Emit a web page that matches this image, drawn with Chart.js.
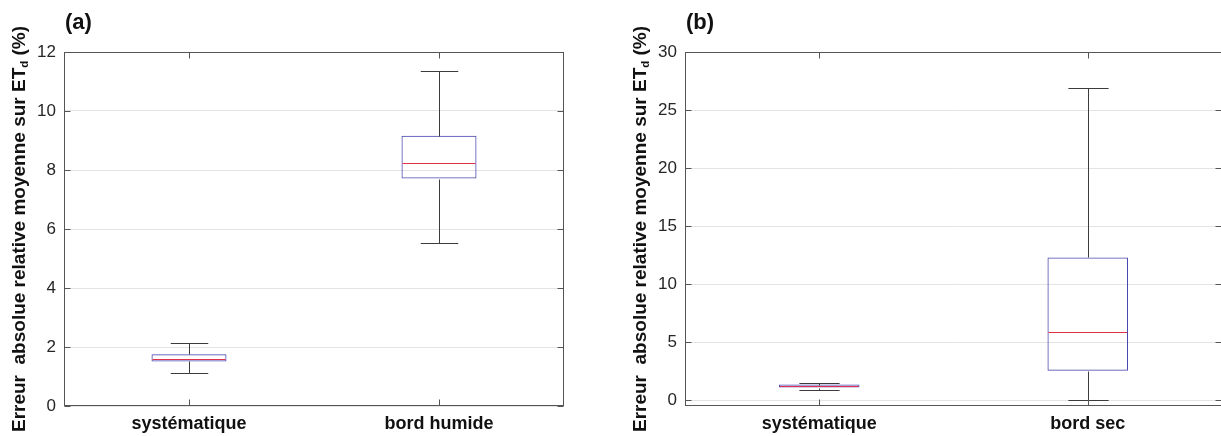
<!DOCTYPE html>
<html><head><meta charset="utf-8">
<script src="https://cdn.jsdelivr.net/npm/chart.js@4.4.1/dist/chart.umd.min.js"></script>
<style>
html,body{margin:0;padding:0;background:#fff;overflow:hidden;width:1221px;height:436px;}
canvas{position:absolute;top:0;}
#ca{left:0px}
#cb{left:600px}
</style></head>
<body>
<canvas id="ca" width="600" height="436"></canvas>
<canvas id="cb" width="622" height="436"></canvas>
<script>
// ---- Data: panel (a)
const categoriesA = ['systématique', 'bord humide'];
const lowA  = [1.13, 5.52];
const q1A   = [1.51, 7.71];
const medA  = [1.61, 8.24];
const q3A   = [1.755, 9.16];
const highA = [2.15, 11.35];
const yTicksA = [0, 2, 4, 6, 8, 10, 12];

// ---- Data: panel (b)
const categoriesB = ['systématique', 'bord sec'];
const lowB  = [0.86, 0.0];
const q1B   = [1.09, 2.53];
const medB  = [1.22, 5.9];
const q3B   = [1.35, 12.3];
const highB = [1.5, 26.9];
const yTicksB = [0, 5, 10, 15, 20, 25, 30];

const yTitleMain = 'Erreur  absolue relative moyenne sur ET';
const yTitleSub = 'd';
const yTitleEnd = ' (%)';

const FONT = "'Liberation Sans', Arial, Helvetica, sans-serif";
const BOX_COLOR = '#4848b0';
const MED_COLOR = '#e0304a';
const WHISK_COLOR = '#3c3c3c';
const FRAME_COLOR = '#555555';
const GRID_COLOR = '#e4e4e4';

function extrasPlugin(p) {
  return {
    id: 'extras_' + p.key,
    afterDatasetsDraw(chart) {
      const ctx = chart.ctx, xs = chart.scales.x, ys = chart.scales.y;
      const n = p.categories.length;
      const bin = xs.width / n;
      const hw = bin * 0.3 / 2, capHw = bin * 0.075;
      const py = v => Math.round(ys.getPixelForValue(v)) + 0.5;
      ctx.save();
      ctx.lineWidth = 1;
      const line = (x1, y1, x2, y2) => { ctx.beginPath(); ctx.moveTo(x1, y1); ctx.lineTo(x2, y2); ctx.stroke(); };
      for (let i = 0; i < n; i++) {
        const cx = Math.round(xs.getPixelForValue(i)) + 0.5;
        ctx.strokeStyle = WHISK_COLOR;
        line(cx, py(p.q3[i]), cx, py(p.high[i]));
        line(cx - capHw, py(p.high[i]), cx + capHw, py(p.high[i]));
        line(cx, py(p.q1[i]), cx, py(p.low[i]));
        line(cx - capHw, py(p.low[i]), cx + capHw, py(p.low[i]));
        ctx.strokeStyle = MED_COLOR;
        const bx = xs.getPixelForValue(i);
        line(bx - hw + 1, py(p.med[i]), bx + hw - 1, py(p.med[i]));
      }
      ctx.restore();
    },
    afterDraw(chart) {
      const ctx = chart.ctx, ca = chart.chartArea, xs = chart.scales.x, ys = chart.scales.y;
      ctx.save();
      ctx.lineWidth = 1;
      ctx.strokeStyle = FRAME_COLOR;
      const L = Math.round(ca.left) + 0.5, R = Math.round(ca.right) - 0.5;
      const T = Math.round(ca.top) + 0.5, B = Math.round(ca.bottom) - 0.5;
      ctx.strokeRect(L, T, R - L, B - T);
      const tl = 6;
      ctx.beginPath();
      p.yTicks.forEach(v => {
        const y = Math.round(ys.getPixelForValue(v)) + 0.5;
        ctx.moveTo(L, y); ctx.lineTo(L + tl, y);
        ctx.moveTo(R, y); ctx.lineTo(R - tl, y);
      });
      p.categories.forEach((c, i) => {
        const x = Math.round(xs.getPixelForValue(i)) + 0.5;
        ctx.moveTo(x, B); ctx.lineTo(x, B - tl);
        ctx.moveTo(x, T); ctx.lineTo(x, T + tl);
      });
      ctx.stroke();

      // panel label
      ctx.fillStyle = '#111';
      ctx.font = 'bold 22px ' + FONT;
      ctx.textBaseline = 'middle';
      ctx.textAlign = 'left';
      ctx.fillText(p.panel, ca.left + 1, 23);

      // y axis title with subscript
      const fs = 19;
      const mainFont = 'bold ' + fs + 'px ' + FONT;
      const subFont = 'bold ' + (fs * 0.6) + 'px ' + FONT;
      ctx.font = mainFont;
      const w1 = ctx.measureText(yTitleMain).width;
      const w3 = ctx.measureText(yTitleEnd).width;
      ctx.font = subFont;
      const w2 = ctx.measureText(yTitleSub).width;
      const total = w1 + w2 + w3;
      ctx.translate(ca.left - 44, (ca.top + ca.bottom) / 2);
      ctx.rotate(-Math.PI / 2);
      ctx.textBaseline = 'middle';
      let x0 = -total / 2;
      ctx.font = mainFont; ctx.fillText(yTitleMain, x0, 0);
      ctx.font = subFont; ctx.fillText(yTitleSub, x0 + w1, 5);
      ctx.font = mainFont; ctx.fillText(yTitleEnd, x0 + w1 + w2, 0);
      ctx.restore();
    }
  };
}

function makeChart(id, p) {
  return new Chart(document.getElementById(id), {
    type: 'bar',
    data: {
      labels: p.categories,
      datasets: [{
        data: p.q1.map((v, i) => [v, p.q3[i]]),
        backgroundColor: 'rgba(0,0,0,0)',
        borderColor: BOX_COLOR,
        borderWidth: 1,
        borderSkipped: false,
        barPercentage: 0.3,
        categoryPercentage: 1.0
      }]
    },
    options: {
      responsive: false,
      animation: false,
      devicePixelRatio: 1,
      layout: { padding: { left: 0, right: p.padRight, top: 52, bottom: 0 } },
      plugins: { legend: { display: false }, tooltip: { enabled: false } },
      scales: {
        x: {
          offset: true,
          grid: { display: false, drawTicks: false },
          border: { display: false },
          ticks: { color: '#111', font: { family: FONT, size: 18, weight: 'bold' }, padding: 7, maxRotation: 0 },
          afterFit: s => { s.height = 30; }
        },
        y: {
          min: p.yMin, max: p.yMax,
          grid: { color: GRID_COLOR, drawTicks: false, lineWidth: 1 },
          border: { display: false },
          ticks: { color: '#262626', font: { family: FONT, size: 17 }, padding: 8 },
          afterBuildTicks: s => { s.ticks = p.yTicks.map(v => ({ value: v })); },
          afterFit: s => { s.width = p.yWidth; }
        }
      }
    },
    plugins: [extrasPlugin(p)]
  });
}

makeChart('ca', { key: 'a', panel: '(a)', categories: categoriesA, low: lowA, q1: q1A, med: medA, q3: q3A, high: highA,
  yTicks: yTicksA, yMin: 0, yMax: 12, yWidth: 64, padRight: 36 });
makeChart('cb', { key: 'b', panel: '(b)', categories: categoriesB, low: lowB, q1: q1B, med: medB, q3: q3B, high: highB,
  yTicks: yTicksB, yMin: -0.5, yMax: 30, yWidth: 85, padRight: 0 });
</script>
</body></html>
